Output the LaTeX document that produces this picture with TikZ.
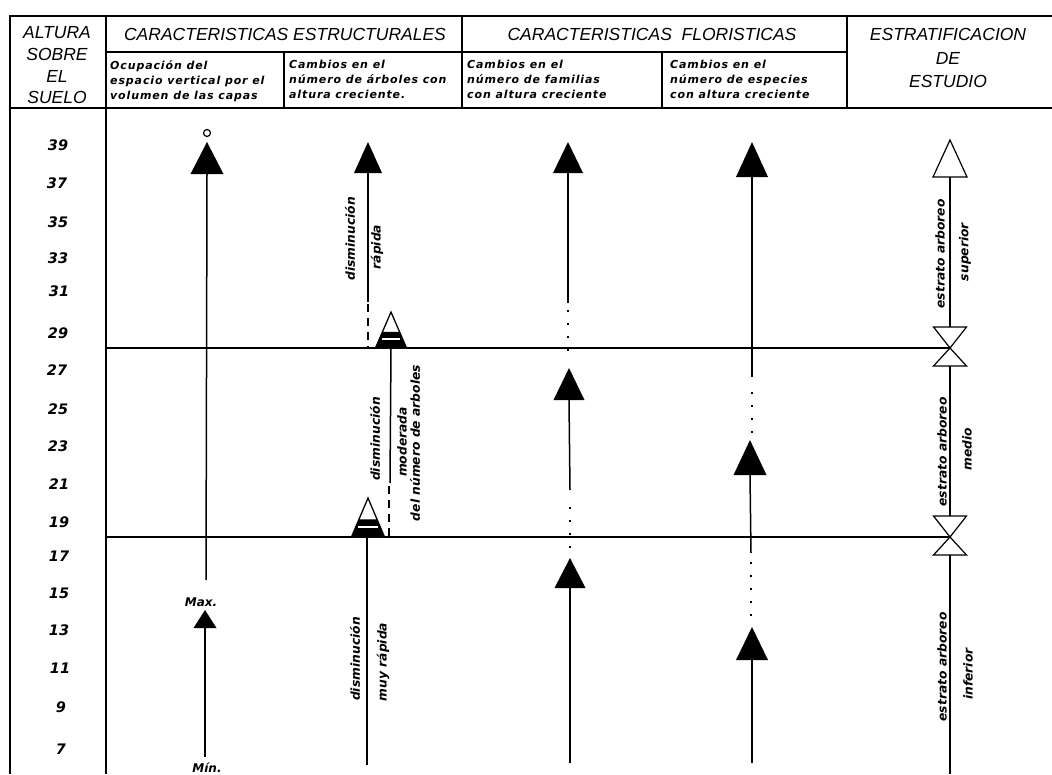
\documentclass[tikz,border=0pt]{standalone}
\usepackage{fontspec}
\setmainfont{Liberation Sans}
\newfontfamily\lett{DejaVu Sans}[LetterSpace=8]
\newfontfamily\lettn{DejaVu Sans}
\newcommand\Ftri[4]{\fill ({#1-#3/2},#4) -- (#1,#2) -- ({#1+#3/2},#4) -- cycle;}
\newcommand\Otri[4]{\draw[line width=1.2pt,fill=white] ({#1-#3/2},#4) -- (#1,#2) -- ({#1+#3/2},#4) -- cycle;}
\newcommand\Vtri[4]{\draw[line width=1.2pt,fill=white] ({#1-#3/2},#2) -- (#1,#4) -- ({#1+#3/2},#2) -- cycle;}
\newcommand\Htri[4]{%
  \pgfmathsetmacro\hh{#4-#2}%
  \begin{scope}[shift={(#1,#4)}]
    \draw[line width=1.3pt,fill=white] ({-#3/2},0) -- (0,{-\hh}) -- ({#3/2},0) -- cycle;
    \fill ({-#3/2},0) -- ({-#3/2*0.55},{-0.45*\hh}) -- ({#3/2*0.55},{-0.45*\hh}) -- ({#3/2},0) -- cycle;
    \draw[white,line width=1.8pt] ({-#3/2*0.72+2},{-0.25*\hh}) -- ({#3/2*0.72-2},{-0.25*\hh});
  \end{scope}}
\begin{document}
\begin{tikzpicture}[x=1pt,y=-1pt,
  frame/.style={line width=1.6pt},
  hline/.style={line width=1.4pt},
  shaft/.style={line width=1.5pt},
  dotline/.style={line width=2pt,dash pattern=on 1.6pt off 11.5pt},
  dashline/.style={line width=1.6pt,dash pattern=on 8pt off 6pt},
  hd/.style={font=\fontsize{17.5}{19}\selectfont\itshape,inner sep=0},
  sub/.style={font=\fontsize{11}{15}\selectfont\lett\bfseries\itshape,align=left,anchor=north west,inner sep=0},
  num/.style={font=\fontsize{14.5}{14.5}\selectfont\lettn\bfseries\itshape,inner sep=0},
  lab/.style={font=\fontsize{12.3}{12.3}\selectfont\lettn\bfseries\itshape,rotate=90,inner sep=0},
  mm/.style={font=\fontsize{12}{12}\selectfont\lettn\bfseries\itshape,inner sep=0}]
\useasboundingbox[fill=white] (0,0) rectangle (1052,774);
% frame
\draw[frame] (1052,16) -- (10,16) -- (10,774);
\draw[frame] (106,16) -- (106,774);
\draw[frame] (462,16) -- (462,108);
\draw[frame] (847,16) -- (847,108);
\draw[frame] (106,52) -- (847,52);
\draw[frame] (284,52) -- (284,108);
\draw[frame] (662,52) -- (662,108);
\draw[frame] (10,108) -- (1052,108);
\draw[hline] (106,348) -- (950,348);
\draw[hline] (106,537) -- (950,537);
% header
\node[hd] (alt1) at (57,33) {ALTURA};
\node[hd] (alt2) at (57,54) {SOBRE};
\node[hd] (alt3) at (57,76) {EL};
\node[hd] (alt4) at (57,97) {SUELO};
\node[hd] (est) at (285,34) {CARACTERISTICAS ESTRUCTURALES};
\node[hd] (flo) at (652,34) {CARACTERISTICAS\ \ FLORISTICAS};
\node[hd] (str1) at (948,34) {ESTRATIFICACION};
\node[hd] (str2) at (948,58) {DE};
\node[hd] (str3) at (948,81) {ESTUDIO};
\node[sub] (sa) at (110,60) {Ocupación del\\espacio vertical por el\\volumen de las capas};
\node[sub] (sb) at (289,60) {Cambios en el\\número de árboles con\\altura creciente.};
\node[sub] (sc) at (467,60) {Cambios en el\\número de familias\\con altura creciente};
\node[sub] (sd) at (670,60) {Cambios en el\\número de especies\\con altura creciente};
% ordinate
\node[num] (n39) at (58,145) {39};
\node[num] (n37) at (57,183) {37};
\node[num] (n35) at (58,222) {35};
\node[num] (n33) at (58,258) {33};
\node[num] (n31) at (59,291) {31};
\node[num] (n29) at (58,333) {29};
\node[num] (n27) at (57,370) {27};
\node[num] (n25) at (58,409) {25};
\node[num] (n23) at (58,446) {23};
\node[num] (n21) at (59,484) {21};
\node[num] (n19) at (59,522) {19};
\node[num] (n17) at (59,556) {17};
\node[num] (n15) at (59,593) {15};
\node[num] (n13) at (59,630) {13};
\node[num] (n11) at (60,668) {11};
\node[num] (n9) at (61,707) {9};
\node[num] (n7) at (61,749) {7};
% column A
\draw[line width=1.2pt] (207,133) circle (3.5);
\Ftri{207}{142}{33}{174}
\draw[shaft] (207,174) -- (206,580);
\node[mm] (max) at (201,602) {Max.};
\Ftri{205}{610}{23}{628}
\draw[shaft] (205,628) -- (205,757);
\node[mm] (min) at (207,768) {Mín.};
% column B
\Ftri{368}{142}{28}{173}
\draw[shaft] (368,173) -- (368,302);
\draw[dashline] (368,304) -- (368,348);
\Htri{391}{312}{31}{348}
\draw[shaft] (391,348) -- (390,483);
\draw[dashline] (389,486) -- (389,537);
\Htri{368}{498}{33}{537}
\draw[shaft] (367,537) -- (367,765);
\node[lab] (bd1) at (350,239) {disminución};
\node[lab] (br1) at (377,247) {rápida};
\node[lab] (bd2) at (375,439) {disminución};
\node[lab] (bm2) at (402,442) {moderada};
\node[lab] (bn2) at (415,443) {del número de arboles};
\node[lab] (bd3) at (355,659) {disminución};
\node[lab] (br3) at (383,662) {muy rápida};
% column C
\Ftri{568}{142}{30}{173}
\draw[shaft] (568,173) -- (568,303);
\draw[dotline] (568,310) -- (568,362);
\Ftri{569}{368}{31}{400}
\draw[shaft] (569,400) -- (570,490);
\draw[dotline] (570,507) -- (570,550);
\Ftri{570}{558}{31}{588}
\draw[shaft] (570,588) -- (570,763);
% column D
\Ftri{752}{142}{32}{177}
\draw[shaft] (752,177) -- (752,377);
\draw[dotline] (752,392) -- (752,435);
\Ftri{750}{440}{33}{475}
\draw[shaft] (750,475) -- (751,553);
\draw[dotline] (751,562) -- (751,624);
\Ftri{752}{627}{32}{660}
\draw[shaft] (752,660) -- (752,763);
% column E
\draw[shaft] (950,177) -- (950,327);
\Otri{950}{140}{34}{177}
\Vtri{950}{327}{33}{348}
\Otri{950}{348}{33}{366}
\draw[shaft] (950,366) -- (950,516);
\Vtri{950}{516}{33}{537}
\Otri{950}{537}{33}{555}
\draw[shaft] (950,555) -- (950,774);
\node[lab] (e1) at (940,254) {estrato arboreo};
\node[lab] (e1b) at (965,252) {superior};
\node[lab] (e2) at (942,452) {estrato arboreo};
\node[lab] (e2b) at (967,449) {medio};
\node[lab] (e3) at (942,667) {estrato arboreo};
\node[lab] (e3b) at (968,674) {inferior};
\end{tikzpicture}
\end{document}
